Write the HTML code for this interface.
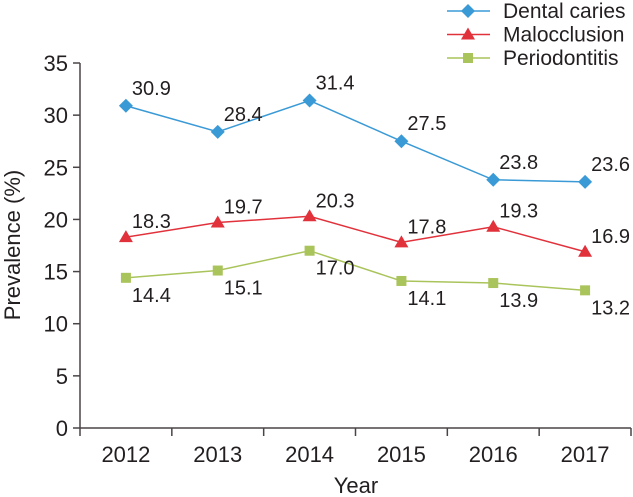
<!DOCTYPE html>
<html><head><meta charset="utf-8"><style>
body{margin:0;background:#fff;}
svg{display:block;font-family:"Liberation Sans",Arial,sans-serif;fill:#231f20;}
</style></head><body>
<svg id="chart" width="633" height="497"></svg>
<script>
const categories=["2012","2013","2014","2015","2016","2017"];
const caries=[30.9,28.4,31.4,27.5,23.8,23.6];
const maloc=[18.3,19.7,20.3,17.8,19.3,16.9];
const perio=[14.4,15.1,17.0,14.1,13.9,13.2];
const yTicks=[0,5,10,15,20,25,30,35];
const seriesNames=["Dental caries","Malocclusion","Periodontitis"];

const NS="http://www.w3.org/2000/svg";
const svg=document.getElementById('chart');
const L=80,R=631,B=428,T=63,yMax=35;
const bw=(R-L)/categories.length;
const xs=i=>L+bw*(i+0.5);
const ys=v=>B-(v/yMax)*(B-T);
function mk(tag,attrs,parent){const e=document.createElementNS(NS,tag);for(const k in attrs)e.setAttribute(k,attrs[k]);(parent||svg).appendChild(e);return e;}

const ax=mk('g',{});


mk('line',{x1:L,y1:T,x2:L,y2:B,stroke:'#4a4446','stroke-width':1.5},ax);
mk('line',{x1:L,y1:B,x2:R,y2:B,stroke:'#4a4446','stroke-width':1.5},ax);
yTicks.forEach(v=>{
  const y=ys(v);
  mk('line',{x1:L-7,y1:y,x2:L,y2:y,stroke:'#4a4446','stroke-width':1.5},ax);
  const t=mk('text',{x:L-12,y:y+8,'text-anchor':'end','font-size':22},ax);
  t.textContent=v;
  
  
});
for(let i=0;i<=categories.length;i++){
  const x=L+bw*i;
  mk('line',{x1:x,y1:B,x2:x,y2:B+8,stroke:'#4a4446','stroke-width':1.5},ax);
}
categories.forEach((c,i)=>{
  const t=mk('text',{x:xs(i),y:462,'text-anchor':'middle','font-size':22},ax);
  t.textContent=c;
  
  
});
const xt=mk('text',{x:356,y:493,'text-anchor':'middle','font-size':22});
xt.textContent='Year';


const yt=mk('text',{x:0,y:0,'text-anchor':'middle','font-size':22,transform:'translate(20,245) rotate(-90)'});
yt.textContent='Prevalence (%)';



function marker(g,type,x,y,color){
  if(type==='d')return mk('polygon',{points:`${x},${y-7} ${x+7},${y} ${x},${y+7} ${x-7},${y}`,fill:color},g);
  if(type==='t')return mk('polygon',{points:`${x},${y-7} ${x+7},${y+5} ${x-7},${y+5}`,fill:color},g);
  return mk('rect',{x:x-5,y:y-5,width:10,height:10,fill:color},g);
}
const series=[
  {name:'dental-caries',vals:caries,color:'#3a9ad6',m:'d',dy:-11},
  {name:'malocclusion',vals:maloc,color:'#e1323c',m:'t',dy:-9},
  {name:'periodontitis',vals:perio,color:'#aac45c',m:'s',dy:24}
];
series.forEach(s=>{
  const g=mk('g',{});
  
  
  mk('polyline',{points:s.vals.map((v,i)=>xs(i)+','+ys(v)).join(' '),fill:'none',stroke:s.color,'stroke-width':1.5},g);
  s.vals.forEach((v,i)=>{
    const p=marker(g,s.m,xs(i),ys(v),s.color);
    
    
    const t=mk('text',{x:xs(i)+6,y:ys(v)+s.dy,'font-size':20},g);
    t.textContent=v.toFixed(1);
    
    
  });
});
const lg=mk('g',{});


series.forEach((s,i)=>{
  const y=11+i*23.5;
  const e=mk('g',{},lg);
  
  
  mk('line',{x1:447,y1:y,x2:490,y2:y,stroke:s.color,'stroke-width':1.5},e);
  marker(e,s.m,468,y,s.color);
  const t=mk('text',{x:503,y:y+7,'font-size':21},e);
  t.textContent=seriesNames[i];
});
</script>
</body></html>
